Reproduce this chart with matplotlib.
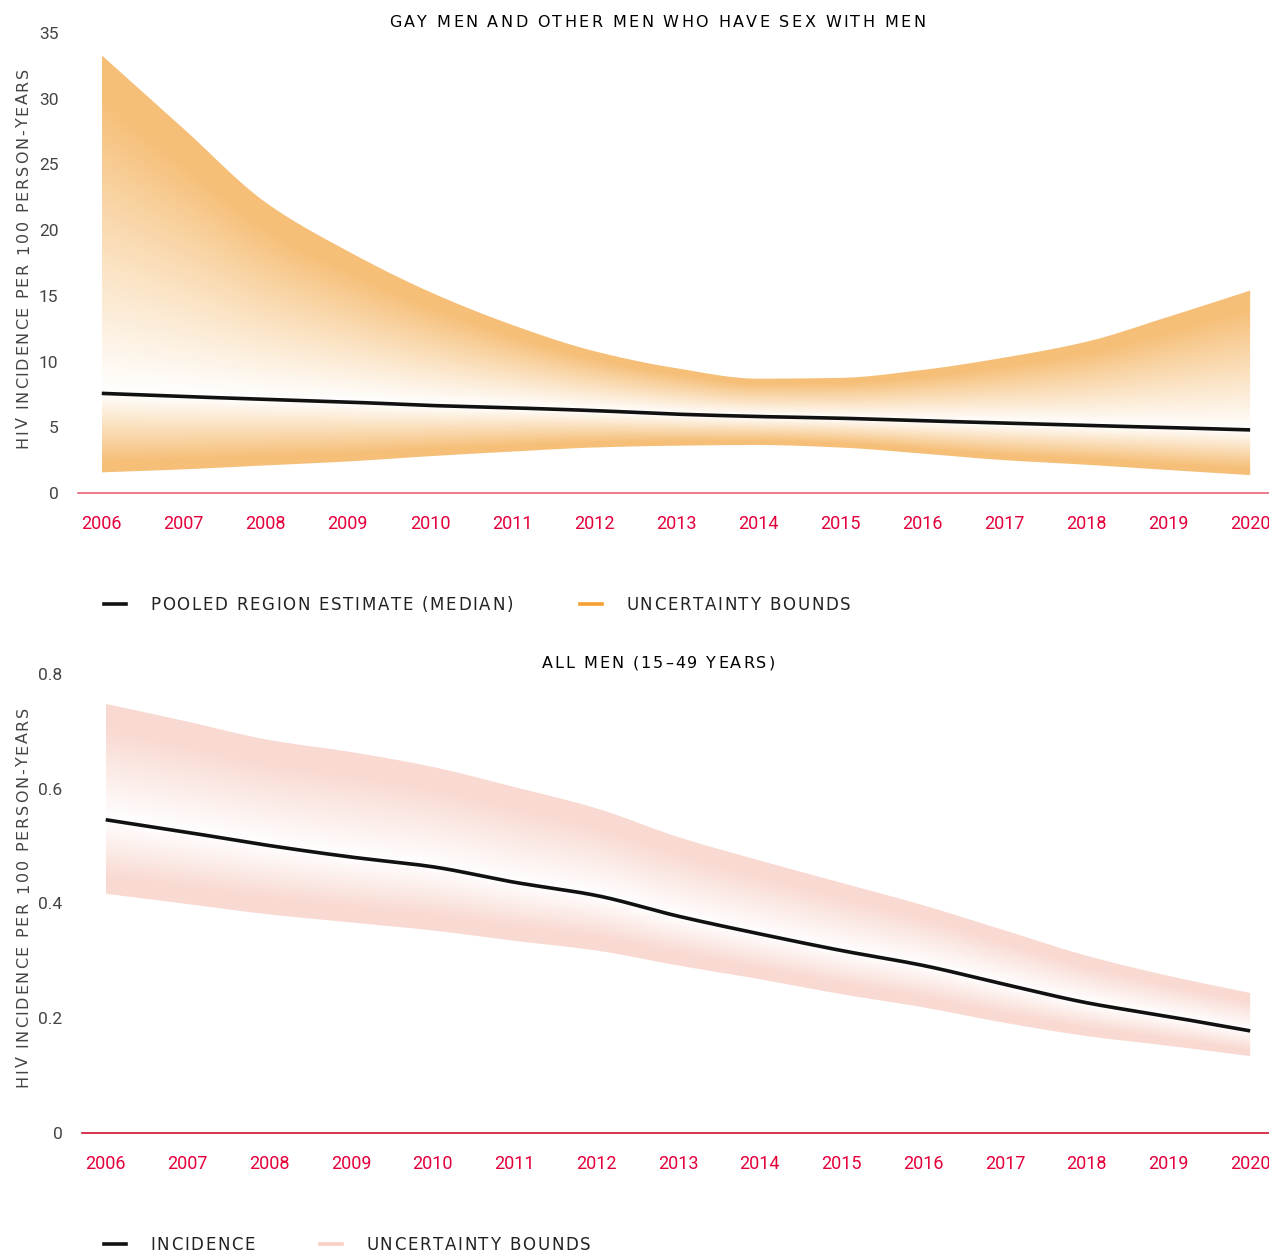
import numpy as np
import matplotlib
matplotlib.use("Agg")
import matplotlib.pyplot as plt
from matplotlib.patches import Polygon
from matplotlib import font_manager
from matplotlib.ft2font import LOAD_NO_HINTING

years = [2006, 2007, 2008, 2009, 2010, 2011, 2012, 2013, 2014, 2015, 2016, 2017, 2018, 2019, 2020]

msm_median = [7.58, 7.34, 7.13, 6.92, 6.66, 6.48, 6.27, 6.0, 5.82, 5.69, 5.5, 5.32, 5.14, 4.98, 4.8]
msm_upper = [33.3, 27.7, 22.1, 18.4, 15.3, 12.8, 10.8, 9.5, 8.7, 8.76, 9.36, 10.3, 11.5, 13.4, 15.4]
msm_lower = [1.57, 1.8, 2.1, 2.4, 2.8, 3.15, 3.46, 3.6, 3.65, 3.46, 3.0, 2.5, 2.15, 1.75, 1.36]

men_incidence = [0.546, 0.524, 0.501, 0.481, 0.464, 0.437, 0.414, 0.378, 0.347, 0.318, 0.292, 0.259, 0.227, 0.203, 0.178]
men_upper = [0.748, 0.717, 0.685, 0.664, 0.638, 0.603, 0.566, 0.516, 0.475, 0.436, 0.397, 0.353, 0.309, 0.274, 0.244]
men_lower = [0.417, 0.399, 0.381, 0.367, 0.353, 0.335, 0.318, 0.292, 0.268, 0.242, 0.219, 0.192, 0.169, 0.152, 0.134]

top_yticks = [0, 5, 10, 15, 20, 25, 30, 35]
bottom_yticks = [0, 0.2, 0.4, 0.6, 0.8]
bottom_yticklabels = ["0", "0.2", "0.4", "0.6", "0.8"]

title_top = "GAY MEN AND OTHER MEN WHO HAVE SEX WITH MEN"
title_bottom = "ALL MEN (15\u201349 YEARS)"
ylabel = "HIV INCIDENCE PER 100 PERSON-YEARS"

RED = "#E4003B"
GRAY = "#444444"
TICKFONT = "Roboto"
plt.rcParams["font.family"] = ["DejaVu Sans"]

W, H = 1269, 1252
DPI = 100
fig = plt.figure(figsize=(W / DPI, H / DPI), dpi=DPI)


def fx(px):
    return px / W


def fy(py):
    return 1 - py / H


def pchip(x, y, xn):
    x = np.asarray(x, float)
    y = np.asarray(y, float)
    h = np.diff(x)
    d = np.diff(y) / h
    m = np.zeros_like(y)
    for k in range(1, len(y) - 1):
        if d[k - 1] * d[k] > 0:
            w1 = 2 * h[k] + h[k - 1]
            w2 = h[k] + 2 * h[k - 1]
            m[k] = (w1 + w2) / (w1 / d[k - 1] + w2 / d[k])
    m[0] = d[0]
    m[-1] = d[-1]
    idx = np.clip(np.searchsorted(x, xn) - 1, 0, len(x) - 2)
    t = (xn - x[idx]) / h[idx]
    h00 = 2 * t**3 - 3 * t**2 + 1
    h10 = t**3 - 2 * t**2 + t
    h01 = -2 * t**3 + 3 * t**2
    h11 = t**3 - t**2
    return h00 * y[idx] + h10 * h[idx] * m[idx] + h01 * y[idx + 1] + h11 * h[idx] * m[idx + 1]


def gradient_band(ax, x, lo, med, hi, color, ymax, power=1.0, gain=1.2):
    gx = np.linspace(x[0], x[-1], 800)
    L = pchip(x, lo, gx)
    M = pchip(x, med, gx)
    U = pchip(x, hi, gx)
    gy = np.linspace(0, ymax, 800)
    XX, YY = np.meshgrid(gx, gy)
    t = np.where(YY >= M[None, :], (YY - M[None, :]) / (U - M)[None, :],
                 (M[None, :] - YY) / (M - L)[None, :])
    t = np.clip(t * gain, 0, 1) ** power
    c = np.array(matplotlib.colors.to_rgb(color))
    img = 1 - (1 - c)[None, None, :] * t[..., None]
    im = ax.imshow(img, extent=(gx[0], gx[-1], 0, ymax), origin="lower",
                   aspect="auto", interpolation="bilinear", zorder=1)
    verts = np.concatenate([np.column_stack([gx, U]), np.column_stack([gx[::-1], L[::-1]])])
    poly = Polygon(verts, closed=True, facecolor="none", edgecolor="none",
                   transform=ax.transData)
    ax.add_patch(poly)
    im.set_clip_path(poly)
    return gx


def style_axes(ax, xlim, ylim, yticks, yticklabels, axis_color):
    ax.set_xlim(*xlim)
    ax.set_ylim(*ylim)
    for s in ["top", "right", "left"]:
        ax.spines[s].set_visible(False)
    ax.spines["bottom"].set_color(axis_color)
    ax.spines["bottom"].set_linewidth(1.2)
    ax.set_xticks(years)
    ax.set_xticklabels([str(y) for y in years], fontfamily=TICKFONT, fontsize=13, color=RED)
    ax.set_yticks(yticks)
    ax.set_yticklabels(yticklabels, fontfamily=TICKFONT, fontsize=12.5, color=GRAY)
    ax.tick_params(axis="x", length=0, pad=16)
    ax.tick_params(axis="y", length=0, pad=14)


def spaced_text(x, y, s, size, tracking, ha="center", rotation=0, color="#222222",
                weight="normal", family="DejaVu Sans"):
    prop = font_manager.FontProperties(family=family, weight=weight, size=size)
    font = font_manager.get_font(font_manager.findfont(prop))
    font.set_size(size, DPI)
    advs = []
    for ch in s:
        g = font.load_char(ord(ch), flags=LOAD_NO_HINTING)
        advs.append(g.linearHoriAdvance / 65536.0)
    total = sum(advs) + tracking * (len(s) - 1)
    cap = 0.73 * size * DPI / 72.0
    if rotation == 0:
        start = x - total / 2 if ha == "center" else x
        base = y + cap / 2
        pos = start
        for ch, a in zip(s, advs):
            fig.text(fx(pos), fy(base), ch, ha="left", va="baseline", fontproperties=prop,
                     color=color)
            pos += a + tracking
    else:
        start = y + total / 2
        base = x + cap / 2
        pos = start
        for ch, a in zip(s, advs):
            fig.text(fx(base), fy(pos), ch, ha="left", va="baseline", fontproperties=prop,
                     color=color, rotation=90, rotation_mode="anchor")
            pos -= a + tracking


# ---- top chart ----
ax1 = fig.add_axes([fx(78), fy(493), fx(1269 - 78), (493 - 33) / H])
gx = gradient_band(ax1, years, msm_lower, msm_median, msm_upper, "#F6BF78", 35, power=1.0, gain=1.15)
ax1.plot(gx, pchip(years, msm_median, gx), color="#111111", lw=2.6, zorder=3, solid_capstyle="butt")
style_axes(ax1, (2005.71, 2020.23), (0, 35), top_yticks, [str(v) for v in top_yticks], "#E9637A")

# ---- bottom chart ----
ax2 = fig.add_axes([fx(82), fy(1133), fx(1269 - 82), (1133 - 674) / H])
gx2 = gradient_band(ax2, years, men_lower, men_incidence, men_upper, "#F9DAD2", 0.8, power=1.0, gain=1.3)
ax2.plot(gx2, pchip(years, men_incidence, gx2), color="#111111", lw=2.6, zorder=3, solid_capstyle="butt")
style_axes(ax2, (2005.71, 2020.23), (0, 0.8), bottom_yticks, bottom_yticklabels, "#D0102F")

# ---- titles ----
spaced_text(657, 21, title_top, 11.5, 2.4, color="#000000")
spaced_text(658, 662, title_bottom, 11.5, 2.0, color="#000000")

# ---- y labels ----
spaced_text(22, 258, ylabel, 11.5, 1.8, rotation=90, color=GRAY)
spaced_text(22, 897, ylabel, 11.5, 1.8, rotation=90, color=GRAY)


# ---- legends ----
def legend_item(x0, y, color, label):
    fig.add_artist(plt.Line2D([fx(x0), fx(x0 + 22)], [fy(y), fy(y)], color=color,
                              lw=2.6, transform=fig.transFigure))
    spaced_text(x0 + 46, y, label, 12, 1.7, ha="left", color="#222222")


legend_item(104, 604, "#111111", "POOLED REGION ESTIMATE (MEDIAN)")
legend_item(580, 604, "#F5A033", "UNCERTAINTY BOUNDS")
legend_item(104, 1244, "#111111", "INCIDENCE")
legend_item(320, 1244, "#F8CFC3", "UNCERTAINTY BOUNDS")

fig.savefig("out.png", dpi=DPI, facecolor="white")
